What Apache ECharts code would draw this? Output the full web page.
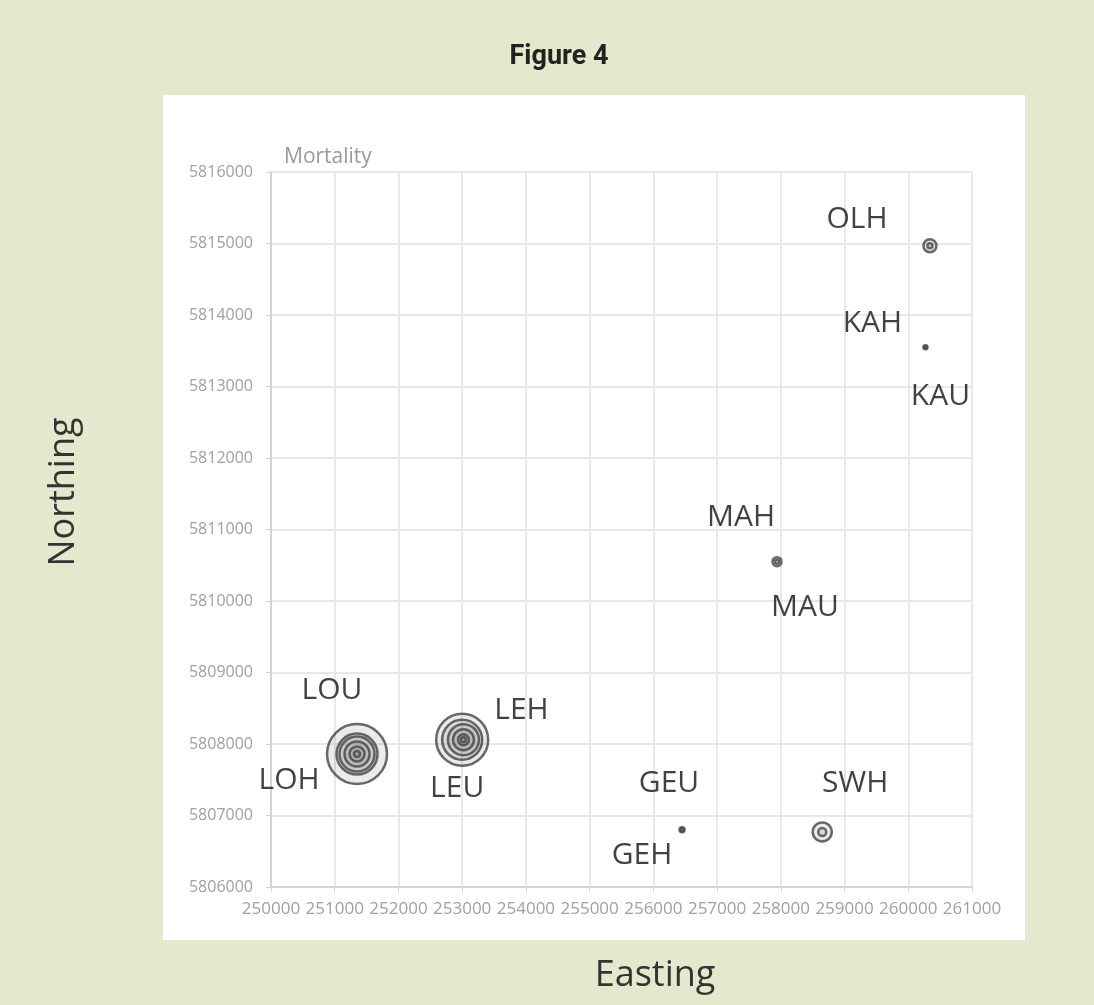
<!DOCTYPE html>
<html>
<head>
<meta charset="utf-8">
<script src="https://cdn.jsdelivr.net/npm/echarts@6/dist/echarts.min.js"></script>
<style>
html,body{margin:0;padding:0;background:#e6e8cd;}
#chart{width:1094px;height:1005px;}
</style>
</head>
<body>
<div id="chart"></div>
<script>
// ---- data ----
const siteNames    = ['LOU', 'LOH', 'LEU', 'LEH', 'GEU', 'GEH', 'SWH', 'MAH', 'MAU', 'OLH', 'KAH', 'KAU'];
const siteEasting  = [251350, 251350, 253000, 253020, 256450, 256450, 258650, 257940, 257940, 260340, 260270, 260270];
const siteNorthing = [5807860, 5807860, 5808060, 5808060, 5806800, 5806800, 5806770, 5810550, 5810550, 5814970, 5813550, 5813550];
// mortality rings per site (each value one ring)
const siteMortality = [
  [60, 41], [35, 25, 15, 6],
  [52, 40], [31, 21, 11, 5],
  [3], [5],
  [19, 8],
  [9], [4],
  [13, 5],
  [4], [2]
];
const xTicks = [250000, 251000, 252000, 253000, 254000, 255000, 256000, 257000, 258000, 259000, 260000, 261000];
const yTicks = [5806000, 5807000, 5808000, 5809000, 5810000, 5811000, 5812000, 5813000, 5814000, 5815000, 5816000];

// ---- layout (label offsets from point, px) ----
const labelOffsets = {
  LOU: [-25, -64], LOH: [-68, 26], LEU: [-5, 49], LEH: [58, -29],
  GEU: [-13, -46], GEH: [-40, 26], SWH: [33, -48], MAH: [-36, -44],
  MAU: [28, 46], OLH: [-73, -26], KAH: [-53, -24], KAU: [15, 49]
};

const ringData = [];
siteNames.forEach((n, i) => {
  siteMortality[i].forEach(m => ringData.push({name: n, value: [siteEasting[i], siteNorthing[i], m]}));
});
ringData.sort((a, b) => b.value[2] - a.value[2]);

const labelData = siteNames.map((n, i) => ({
  name: n,
  value: [siteEasting[i], siteNorthing[i]],
  label: {offset: labelOffsets[n]}
}));

const chart = echarts.init(document.getElementById('chart'), null, {renderer: 'canvas'});
chart.setOption({
  backgroundColor: '#e6e8cd',
  animation: false,
  grid: {left: 271, right: 122, top: 172, bottom: 118, containLabel: false},
  xAxis: {
    type: 'value',
    min: xTicks[0], max: xTicks[xTicks.length - 1], interval: 1000,
    axisLine: {show: true, lineStyle: {color: '#d4d4d4', width: 2}},
    axisTick: {show: true, length: 5, lineStyle: {color: '#d4d4d4'}},
    splitLine: {show: true, lineStyle: {color: '#e8e8e8', width: 2}},
    axisLabel: {color: '#a0a0a0', fontSize: 17, fontFamily: 'Open Sans', margin: 14, hideOverlap: false, showMinLabel: true, showMaxLabel: true, formatter: v => String(v)}
  },
  yAxis: {
    type: 'value',
    min: yTicks[0], max: yTicks[yTicks.length - 1], interval: 1000,
    axisLine: {show: true, lineStyle: {color: '#d4d4d4', width: 2}},
    axisTick: {show: true, length: 5, lineStyle: {color: '#d4d4d4'}},
    splitLine: {show: true, lineStyle: {color: '#e8e8e8', width: 2}},
    axisLabel: {color: '#a0a0a0', fontSize: 16, fontFamily: 'Open Sans', margin: 18, formatter: v => String(v)}
  },
  graphic: {elements: [
    {type: 'rect', z: -100, shape: {x: 163, y: 95, width: 862, height: 845}, style: {fill: '#ffffff'}},
    {type: 'text', x: 559, y: 57, style: {text: 'Figure 4', font: 'bold 27px Roboto', fill: '#222', textAlign: 'center', textVerticalAlign: 'middle'}},
    {type: 'text', x: 284, y: 157, style: {text: 'Mortality', font: '21px "Open Sans"', fill: '#999', textAlign: 'left', textVerticalAlign: 'middle'}},
    {type: 'text', x: 64, y: 492, rotation: Math.PI / 2, style: {text: 'Northing', font: '36px "Open Sans"', fill: '#333', textAlign: 'center', textVerticalAlign: 'middle'}},
    {type: 'text', x: 655, y: 976, style: {text: 'Easting', font: '36px "Open Sans"', fill: '#333', textAlign: 'center', textVerticalAlign: 'middle'}}
  ]},
  series: [
    {
      name: 'Mortality',
      type: 'scatter',
      data: ringData,
      symbol: 'circle',
      symbolSize: v => v[2],
      itemStyle: {color: 'rgba(80,80,80,0.14)', borderColor: '#444', borderWidth: 2.5},
      emphasis: {disabled: true},
      z: 3
    },
    {
      name: 'Sites',
      type: 'scatter',
      data: labelData,
      symbolSize: 1,
      itemStyle: {color: 'rgba(0,0,0,0)'},
      label: {show: true, position: 'inside', formatter: '{b}', color: '#111', fontSize: 30, fontFamily: 'Open Sans', align: 'center', verticalAlign: 'middle'},
      emphasis: {disabled: true},
      z: 4
    }
  ]
});
</script>
</body>
</html>
